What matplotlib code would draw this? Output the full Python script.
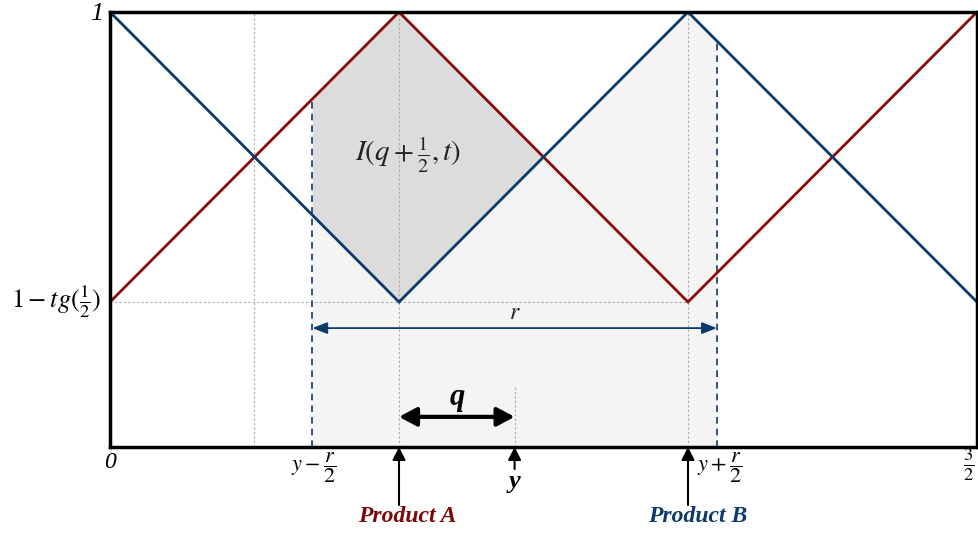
import numpy as np
import matplotlib
matplotlib.use("Agg")
import matplotlib.pyplot as plt

plt.rcParams['mathtext.fontset'] = 'stix'
plt.rcParams['font.family'] = ['Liberation Serif', 'DejaVu Serif']

# ---- data ----
x_knots = [0.0, 0.5, 1.0, 1.5]
red_vals = [0.5, 1.0, 0.5, 1.0]    # Product A
blue_vals = [1.0, 0.5, 1.0, 0.5]   # Product B
low_level = 0.5                    # 1 - tg(1/2)
y_pos = 0.7
r_width = 0.7
q_dist = 0.2
cross_left = 0.25
prod_a = 0.5
prod_b = 1.0

RED = '#8b0a0a'
BLUE = '#0b3a6b'

fig = plt.figure(figsize=(9.79, 5.33), dpi=100)
ax = fig.add_axes([110/979, 86/533, 867/979, 435/533])
ax.set_xlim(0, 1.5)
ax.set_ylim(0.25, 1.0)

lo = y_pos - r_width/2
hi = y_pos + r_width/2

# light region: from bottom to upper envelope between y-r/2 and y+r/2
xx = np.linspace(lo, hi, 400)
rr = np.interp(xx, x_knots, red_vals)
bb = np.interp(xx, x_knots, blue_vals)
ax.fill_between(xx, 0.25, np.maximum(rr, bb), color='#f4f4f4', lw=0, zorder=1)
# dark region: between curves from y-r/2 to the crossing
xd = np.linspace(lo, 0.75, 300)
rd = np.interp(xd, x_knots, red_vals)
bd = np.interp(xd, x_knots, blue_vals)
ax.fill_between(xd, np.minimum(rd, bd), np.maximum(rd, bd), color='#dcdcdc', lw=0, zorder=1.5)

# dotted guides
dot_kw = dict(color='#aaaaaa', lw=0.8, ls=(0, (2, 2)), zorder=2)
for xv in [cross_left, prod_a, prod_b]:
    ax.axvline(xv, **dot_kw)
ax.plot([0, prod_b], [low_level, low_level], **dot_kw)
ax.plot([y_pos, y_pos], [0.25, 0.355], **dot_kw)

# dashed boundaries
ax.plot([lo, lo], [0.25, np.interp(lo, x_knots, red_vals)], color=BLUE, lw=1.2, ls=(0, (4, 3)), zorder=3)
ax.plot([hi, hi], [0.25, np.interp(hi, x_knots, blue_vals)], color=BLUE, lw=1.2, ls=(0, (4, 3)), zorder=3)

# lines
ax.plot(x_knots, red_vals, color=RED, lw=2, zorder=4, solid_joinstyle='miter')
ax.plot(x_knots, blue_vals, color=BLUE, lw=2, zorder=4, solid_joinstyle='miter')

# r arrow
ax.annotate('', xy=(lo, 0.455), xytext=(hi, 0.455),
            arrowprops=dict(arrowstyle='<|-|>,head_length=0.9,head_width=0.35', color=BLUE, lw=1.3,
                            shrinkA=0, shrinkB=0), zorder=5)
ax.text(y_pos, 0.462, '$r$', ha='center', va='bottom', fontsize=17, color='#222222')

# q arrow
ax.annotate('', xy=(prod_a, 0.302), xytext=(prod_a + q_dist, 0.302),
            arrowprops=dict(arrowstyle='<|-|>,head_length=0.75,head_width=0.4', color='black', lw=3,
                            shrinkA=0, shrinkB=0, mutation_scale=14), zorder=5)
ax.text(prod_a + q_dist/2, 0.31, 'q', ha='center', va='bottom', fontsize=22,
        fontweight='bold', fontstyle='italic')

ax.text(0.516, 0.753, r'$I(q+\frac{1}{2},t)$', ha='center', va='center', fontsize=21, color='#222222')

# spines
for s in ax.spines.values():
    s.set_linewidth(2.5)
    s.set_zorder(6)
ax.set_xticks([])
ax.set_yticks([])

# y labels
ax.text(-0.011, 0.996, '1', ha='right', va='center', fontsize=19, fontstyle='italic')
ax.text(-0.016, low_level, r'$1-tg(\frac{1}{2})$', ha='right', va='center', fontsize=19)

# x labels
ax.text(0, 0.224, '0', ha='center', va='center', fontsize=17, fontstyle='italic')
ax.text(1.486, 0.22, r'$\frac{3}{2}$', ha='center', va='center', fontsize=19)
ax.text(lo + 0.002, 0.214, r'$y-\dfrac{r}{2}$', ha='center', va='center', fontsize=16)
ax.text(hi + 0.004, 0.214, r'$y+\dfrac{r}{2}$', ha='center', va='center', fontsize=16)

# bottom arrows
arr_kw = dict(arrowstyle='-|>,head_length=0.55,head_width=0.28', color='black', lw=1.5, shrinkA=0, shrinkB=0,
              mutation_scale=14)
ax.annotate('', xy=(prod_a, 0.25), xytext=(prod_a, 0.15), arrowprops=arr_kw, annotation_clip=False)
ax.annotate('', xy=(prod_b, 0.25), xytext=(prod_b, 0.15), arrowprops=arr_kw, annotation_clip=False)
ax.annotate('', xy=(y_pos, 0.25), xytext=(y_pos, 0.212), arrowprops=arr_kw, annotation_clip=False)
ax.text(y_pos, 0.19, 'y', ha='center', va='center', fontsize=19, fontweight='bold', fontstyle='italic')

ax.text(prod_a + 0.014, 0.131, 'Product A', ha='center', va='center', fontsize=17,
        fontweight='bold', fontstyle='italic', color='#7a0808')
ax.text(prod_b + 0.016, 0.131, 'Product B', ha='center', va='center', fontsize=17,
        fontweight='bold', fontstyle='italic', color=BLUE)

fig.savefig('out.png', dpi=100)
